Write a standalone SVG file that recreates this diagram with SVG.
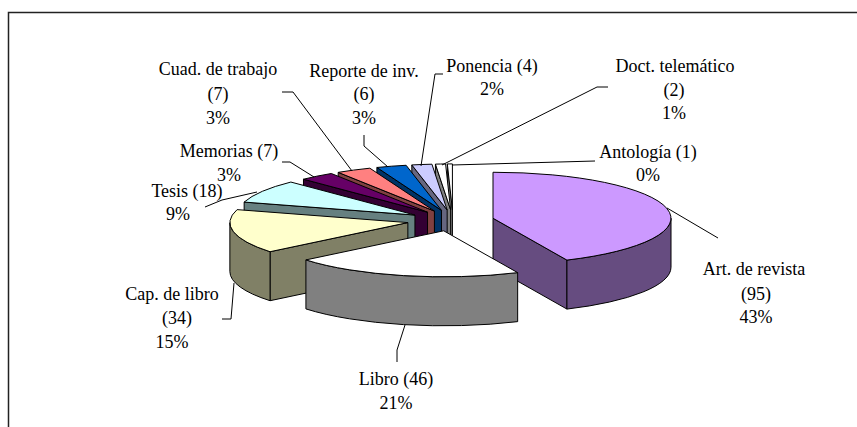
<svg xmlns="http://www.w3.org/2000/svg" width="857" height="427" viewBox="0 0 857 427">
<style>
.f{stroke:#000;stroke-width:1;stroke-linejoin:round}
.l{fill:none;stroke:#000;stroke-width:1}
text{font-family:"Liberation Serif","Times New Roman",serif;font-size:18px;fill:#000;text-anchor:middle}
</style>
<rect x="8.5" y="12.5" width="870" height="440" fill="#fff" stroke="#222" stroke-width="1.5"/>
<g id="antologia">
<path class="f" fill="#808080" d="M452.41,209.92 L447.33,163.94 L447.33,212.94 L452.41,258.92 Z"/>
<path class="f" fill="#fff" d="M452.41,209.92 L452.41,163.92 A178,46 0 0,0 447.33,163.94 Z"/>
</g>
<g id="doct">
<path class="f" fill="#808080" d="M450.66,209.94 L435.42,164.11 L435.42,213.11 L450.66,258.94 Z"/>
<path class="f" fill="#fff" d="M450.66,209.94 L445.58,163.96 A178,46 0 0,0 435.42,164.11 Z"/>
</g>
<g id="ponencia">
<path class="f" fill="#666680" d="M447.17,210.03 L411.82,164.95 L411.82,213.95 L447.17,259.03 Z"/>
<path class="f" fill="#ccf" d="M447.17,210.03 L431.93,164.2 A178,46 0 0,0 411.82,164.95 Z"/>
</g>
<g id="reporte">
<path class="f" fill="#036" d="M441.47,210.35 L376.89,167.48 L376.89,216.48 L441.47,259.35 Z"/>
<path class="f" fill="#06c" d="M441.47,210.35 L406.12,165.27 A178,46 0 0,0 376.89,167.48 Z"/>
</g>
<g id="cuad">
<path class="f" fill="#804040" d="M434.41,211.07 L338.18,172.37 L338.18,221.37 L434.41,260.07 Z"/>
<path class="f" fill="#ff8080" d="M434.41,211.07 L369.83,168.2 A178,46 0 0,0 338.18,172.37 Z"/>
</g>
<g id="memorias">
<path class="f" fill="#303" d="M427.54,212.21 L303.47,179.22 L303.47,228.22 L427.54,261.21 Z"/>
<path class="f" fill="#606" d="M427.54,212.21 L331.31,173.51 A178,46 0 0,0 303.47,179.22 Z"/>
</g>
<g id="tesis">
<path class="f" fill="#668080" d="M414.94,215.04 L244.15,202.08 L244.15,251.08 L414.94,264.04 Z"/>
<path class="f" fill="#cff" d="M414.94,215.04 L290.87,182.05 A178,46 0 0,0 244.15,202.08 Z"/>
</g>
<g id="cap">
<path class="f" fill="#808066" d="M407.87,222.6 L270.06,251.71 L270.06,300.71 L407.87,271.6 Z"/>
<path class="f" fill="#808066" d="M229.87,222.6 A178,46 0 0,0 270.06,251.71 L270.06,300.71 A178,46 0 0,1 229.87,271.6 Z"/>
<path class="f" fill="#ffc" d="M407.87,222.6 L237.08,209.64 A178,46 0 0,0 270.06,251.71 Z"/>
</g>
<g id="art">
<path class="f" fill="#664c80" d="M493.01,218.25 L566.95,260.09 L566.95,309.09 L493.01,267.25 Z"/>
<path class="f" fill="#664c80" d="M671.01,218.25 A178,46 0 0,1 566.95,260.09 L566.95,309.09 A178,46 0 0,0 671.01,267.25 Z"/>
<path class="f" fill="#c9f" d="M493.01,218.25 L493.01,172.25 A178,46 0 0,1 566.95,260.09 Z"/>
</g>
<g id="libro">
<path class="f" fill="#808080" d="M517.67,272.64 A178,46 0 0,1 305.92,259.91 L305.92,308.91 A178,46 0 0,0 517.67,321.64 Z"/>
<path class="f" fill="#fff" d="M443.73,230.8 L517.67,272.64 A178,46 0 0,1 305.92,259.91 Z"/>
</g>
<g id="connectors">
<polyline class="l" points="282,92 293,92 352,171"/>
<polyline class="l" points="364,135 364,146 388,167"/>
<polyline class="l" points="443,74 435,74 421,166"/>
<polyline class="l" points="608,87 597,87 442,165"/>
<polyline class="l" points="595,161 452,165"/>
<polyline class="l" points="282,162 290,162 314,177"/>
<polyline class="l" points="205,207 222,200 257,192"/>
<polyline class="l" points="222,319 231,319 234,283"/>
<polyline class="l" points="397,362 397,350 405,325"/>
<polyline class="l" points="667,208 718,238"/>
</g>
<g id="labels">
<text x="218" y="75">Cuad. de trabajo</text><text x="218" y="100">(7)</text><text x="218" y="124">3%</text>
<text x="364" y="77">Reporte de inv.</text><text x="364" y="100">(6)</text><text x="364" y="124">3%</text>
<text x="492" y="72">Ponencia (4)</text><text x="492" y="95">2%</text>
<text x="675" y="72">Doct. telemático</text><text x="674" y="96">(2)</text><text x="674" y="119">1%</text>
<text x="648" y="158">Antología (1)</text><text x="648" y="181">0%</text>
<text x="229" y="157">Memorias (7)</text><text x="229" y="181">3%</text>
<text x="187" y="197">Tesis (18)</text><text x="178" y="220">9%</text>
<text x="172" y="300">Cap. de libro</text><text x="177" y="324">(34)</text><text x="172" y="348">15%</text>
<text x="754" y="275">Art. de revista</text><text x="756" y="300">(95)</text><text x="756" y="323">43%</text>
<text x="396" y="385">Libro (46)</text><text x="396" y="409">21%</text>
</g>
</svg>
